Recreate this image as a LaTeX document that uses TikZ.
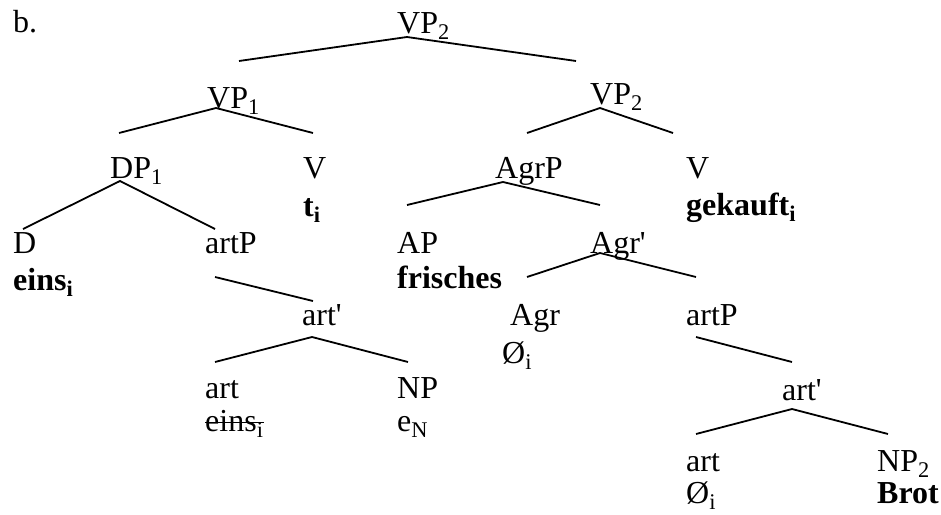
\documentclass[tikz,border=0pt]{standalone}
\usepackage{fontspec}
\setmainfont{Liberation Serif}
\usepackage{tikz}
\tikzset{
  cat/.style={
    anchor=base west,
    inner sep=0pt,
    font=\fontsize{32}{37}\selectfont,
  },
  lex/.style={
    cat,
  },
  branch/.style={
    line width=1.8pt,
    draw=black,
  },
  strike/.style={
    line width=1.2pt,
    draw=black,
  },
}

\begin{document}
\begin{tikzpicture}[x=1pt, y=-1pt]
  \useasboundingbox (0,0) rectangle (941,514);

  % --- labels, top down ---
  \node[cat] (blabel) at (13,32) {b.};
  \node[cat] (vpt) at (397,33) {VP\textsubscript{2}};

  \node[cat] (vpa) at (207,108) {VP\textsubscript{1}};
  \node[cat] (vpb) at (590,104) {VP\textsubscript{2}};

  \node[cat] (dp)   at (110,178) {DP\textsubscript{1}};
  \node[cat] (vl)   at (303,178) {V};
  \node[lex] (tl)   at (303,216) {\textbf{t\textsubscript{i}}};
  \node[cat] (agrp) at (495,178) {AgrP};
  \node[cat] (vr)   at (686,178) {V};
  \node[lex] (gek)  at (686,215) {\textbf{gekauft\textsubscript{i}}};

  \node[cat] (d)      at (13,253)  {D};
  \node[lex] (eins)   at (13,290)  {\textbf{eins\textsubscript{i}}};
  \node[cat] (artpa)  at (205,253) {artP};
  \node[cat] (ap)     at (397,253) {AP};
  \node[lex] (fri)    at (397,288) {\textbf{frisches}};
  \node[cat] (agrbar) at (590,253) {Agr\textquotesingle};

  \node[cat] (artba) at (302,325) {art\textquotesingle};
  \node[cat] (agr)   at (510,325) {Agr};
  \node[lex] (nulla) at (502,363) {Ø\textsubscript{i}};
  \node[cat] (artpb) at (686,325) {artP};

  \node[cat] (arta)  at (205,398) {art};
  \node[lex] (einss) at (205,431) {eins\textsubscript{i}};
  \draw[strike] ([yshift=8.5pt]einss.base west) -- ([yshift=8.5pt]einss.base east);
  \node[cat] (np)    at (397,398) {NP};
  \node[lex] (en)    at (397,431) {e\textsubscript{N}};
  \node[cat] (artbb) at (782,400) {art\textquotesingle};

  \node[cat] (artb)  at (686,471) {art};
  \node[lex] (nullb) at (686,503) {Ø\textsubscript{i}};
  \node[cat] (npb)   at (877,471) {NP\textsubscript{2}};
  \node[lex] (brot)  at (877,503) {\textbf{Brot}};

  % --- branches ---
  \draw[branch] ([shift={(32,-47)}]vpa.base west) -- ([shift={(10,4)}]vpt.base west) -- ([shift={(-14,-43)}]vpb.base west);
  \draw[branch] ([shift={(9,-45)}]dp.base west) -- ([shift={(9,0)}]vpa.base west) -- ([shift={(10,-45)}]vl.base west);
  \draw[branch] ([shift={(32,-45)}]agrp.base west) -- ([shift={(10,4)}]vpb.base west) -- ([shift={(-13,-45)}]vr.base west);
  \draw[branch] ([shift={(10,-24)}]d.base west) -- ([shift={(10,3)}]dp.base west) -- ([shift={(10,-24)}]artpa.base west);
  \draw[branch] ([shift={(10,-48)}]ap.base west) -- ([shift={(8,4)}]agrp.base west) -- ([shift={(10,-48)}]agrbar.base west);
  \draw[branch] ([shift={(10,24)}]artpa.base west) -- ([shift={(11,-24)}]artba.base west);
  \draw[branch] ([shift={(10,-36)}]arta.base west) -- ([shift={(10,12)}]artba.base west) -- ([shift={(11,-36)}]np.base west);
  \draw[branch] ([shift={(17,-48)}]agr.base west) -- ([shift={(10,0)}]agrbar.base west) -- ([shift={(10,-48)}]artpb.base west);
  \draw[branch] ([shift={(10,12)}]artpb.base west) -- ([shift={(10,-38)}]artbb.base west);
  \draw[branch] ([shift={(10,-37)}]artb.base west) -- ([shift={(10,9)}]artbb.base west) -- ([shift={(11,-37)}]npb.base west);
\end{tikzpicture}
\end{document}
